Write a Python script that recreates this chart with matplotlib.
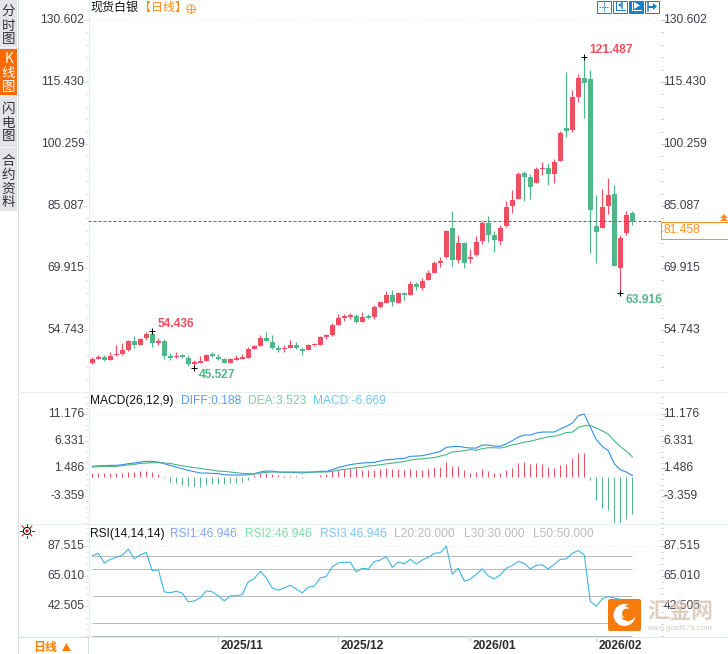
import numpy as np
import matplotlib as mpl
mpl.use('Agg')
import matplotlib.pyplot as plt
from matplotlib.patches import Rectangle, FancyBboxPatch, Circle, Polygon
from matplotlib.ticker import AutoMinorLocator
from matplotlib.transforms import ScaledTranslation

# daily candles
opens = [46.68, 47.74, 48.14, 47.41, 48.55, 48.88, 49.86, 52.06, 51.16, 52.71,
         53.77, 51.57, 52.06, 48.39, 48.14, 48.63, 47.90, 46.51, 46.76, 47.25,
         48.80, 48.14, 47.65, 46.68, 47.49, 47.74, 47.90, 50.10, 50.92, 52.79,
         51.81, 50.10, 50.10, 50.43, 51.08, 50.02, 49.86, 51.00, 51.16, 52.96,
         53.45, 56.06, 57.77, 57.93, 58.17, 56.79, 58.17, 58.01, 60.37, 61.35,
         63.31, 61.35, 63.80, 63.31, 66.00, 65.02, 66.98, 68.69, 71.14, 72.61,
         79.71, 71.88, 76.04, 72.12, 73.10, 76.53, 80.93, 77.99, 76.53, 80.20,
         85.09, 86.80, 93.16, 92.18, 90.72, 94.14, 94.39, 92.92, 96.10, 104.17,
         103.68, 111.76, 116.41, 116.17, 80.19, 79.71, 85.09, 88.02, 69.92, 78.48,
         83.37]
highs = [48.14, 48.63, 48.63, 49.45, 51.08, 51.49, 52.30, 53.28, 52.88, 54.18,
         54.436, 52.88, 52.55, 49.20, 49.37, 48.88, 48.63, 47.33, 48.39, 48.88,
         49.37, 48.80, 47.82, 47.82, 48.63, 48.88, 50.67, 51.08, 53.45, 54.26,
         53.45, 51.08, 51.08, 52.22, 51.81, 50.51, 51.24, 51.65, 53.20, 53.77,
         56.38, 58.67, 58.67, 58.83, 58.66, 59.15, 58.66, 60.86, 61.84, 64.29,
         64.53, 64.05, 64.05, 66.74, 66.49, 67.47, 69.43, 71.63, 72.61, 79.22,
         83.87, 77.99, 76.28, 74.57, 77.75, 81.42, 82.64, 78.97, 80.44, 86.32,
         89.01, 93.41, 93.65, 92.92, 94.63, 95.86, 95.61, 96.59, 103.44, 117.88,
         113.47, 117.39, 121.487, 118.37, 87.78, 89.25, 91.94, 90.23, 77.99, 83.86,
         83.86]
lows = [46.43, 47.65, 47.17, 47.41, 48.39, 48.63, 49.69, 50.43, 51.08, 52.30,
        50.67, 51.08, 47.74, 47.41, 47.82, 47.82, 45.94, 45.527, 46.76, 47.17,
        48.14, 47.49, 46.68, 46.68, 47.49, 47.65, 47.82, 50.10, 50.84, 52.06,
        50.02, 49.37, 49.29, 50.35, 50.02, 48.71, 49.78, 50.75, 51.08, 52.63,
        53.28, 55.97, 56.87, 57.52, 56.54, 56.70, 57.52, 57.52, 60.13, 61.35,
        60.62, 61.35, 62.09, 63.31, 64.53, 64.53, 66.98, 68.69, 70.16, 72.37,
        70.41, 71.14, 69.92, 71.14, 72.86, 75.79, 76.28, 73.84, 75.55, 79.95,
        83.38, 86.80, 86.31, 86.80, 90.72, 92.67, 90.23, 90.72, 96.10, 101.97,
        103.20, 110.54, 106.62, 73.59, 71.14, 79.71, 83.13, 70.41, 63.916, 77.99,
        80.44]
closes = [47.65, 48.23, 47.41, 48.39, 48.96, 49.86, 52.06, 51.08, 52.47, 53.77,
          51.65, 52.06, 48.47, 47.90, 48.39, 48.14, 46.51, 47.00, 47.17, 48.63,
          48.47, 47.74, 46.76, 47.65, 47.90, 47.90, 50.10, 50.92, 52.79, 52.14,
          50.43, 49.94, 50.35, 51.08, 50.43, 49.69, 51.08, 51.41, 53.04, 53.45,
          55.97, 57.69, 58.18, 58.42, 56.70, 57.85, 57.68, 60.37, 61.60, 63.31,
          61.60, 63.80, 63.31, 66.00, 65.27, 66.74, 68.69, 71.14, 71.63, 78.97,
          71.88, 76.04, 71.14, 72.61, 76.28, 80.93, 77.99, 76.77, 79.71, 84.85,
          86.56, 92.92, 92.18, 89.74, 94.14, 94.39, 92.92, 95.86, 102.95, 103.44,
          111.76, 116.41, 115.19, 84.11, 78.73, 84.84, 87.78, 70.41, 77.26, 82.88,
          81.458]
marked_highs = [10, 82]
marked_lows = [17, 88]

# MACD panel
diff = [1.83, 1.95, 1.95, 2.01, 2.01, 2.13, 2.30, 2.42, 2.60, 2.72,
        2.72, 2.60, 2.30, 2.01, 1.71, 1.42, 1.12, 0.89, 0.65, 0.65,
        0.59, 0.53, 0.35, 0.30, 0.30, 0.30, 0.35, 0.53, 0.83, 1.00,
        1.00, 0.83, 0.77, 0.77, 0.77, 0.65, 0.77, 0.83, 0.95, 0.95,
        1.24, 1.65, 1.89, 2.13, 2.30, 2.42, 2.48, 2.54, 2.78, 3.01,
        3.07, 3.19, 3.25, 3.61, 3.66, 3.72, 3.96, 4.20, 4.49, 5.20,
        5.32, 5.38, 5.20, 5.08, 5.08, 5.61, 5.61, 5.44, 5.38, 5.85,
        6.38, 7.03, 7.39, 7.39, 7.74, 7.92, 7.92, 7.92, 8.45, 8.92,
        9.52, 10.82, 11.11, 8.81, 6.56, 5.38, 4.61, 2.30, 1.24, 0.83,
        0.188]
dea = [1.71, 1.77, 1.83, 1.83, 1.83, 1.95, 2.07, 2.19, 2.36, 2.42,
       2.48, 2.48, 2.42, 2.36, 2.13, 1.95, 1.77, 1.60, 1.48, 1.30,
       1.18, 1.00, 0.95, 0.83, 0.71, 0.59, 0.53, 0.47, 0.65, 0.77,
       0.83, 0.83, 0.83, 0.83, 0.83, 0.83, 0.83, 0.83, 0.83, 0.83,
       0.95, 1.18, 1.30, 1.42, 1.60, 1.65, 1.92, 1.98, 2.13, 2.28,
       2.42, 2.54, 2.69, 2.96, 3.10, 3.16, 3.31, 3.37, 3.66, 3.93,
       4.40, 4.46, 4.64, 4.79, 4.70, 4.96, 5.14, 5.14, 5.08, 5.29,
       5.64, 5.85, 6.12, 6.29, 6.56, 6.83, 7.09, 7.18, 7.45, 7.83,
       7.89, 8.75, 9.04, 9.07, 8.60, 8.13, 7.54, 6.38, 5.32, 4.55,
       3.523]
macd = [0.71, 0.65, 0.59, 0.59, 0.59, 0.65, 0.77, 0.83, 0.95, 0.95,
        0.83, 0.47, -0.18, -0.89, -1.12, -1.42, -1.60, -1.60, -1.77, -1.54,
        -1.36, -1.36, -1.30, -1.18, -1.12, -1.00, -0.53, 0.35, 0.71, 0.71,
        0.47, 0.24, 0.18, 0.18, 0.18, -0.30, -0.12, -0.12, 0.24, 0.53,
        1.00, 1.18, 1.30, 1.54, 1.48, 1.18, 1.12, 1.12, 1.30, 1.48,
        1.30, 1.30, 1.12, 1.30, 1.12, 1.12, 1.30, 1.65, 1.65, 2.54,
        1.83, 1.83, 1.12, 0.59, 0.77, 1.30, 0.95, 0.59, 0.59, 1.12,
        1.48, 2.36, 2.54, 2.18, 2.36, 2.18, 1.65, 1.48, 2.01, 2.18,
        3.25, 4.14, 4.14, -0.53, -4.08, -5.50, -5.85, -8.16, -8.16, -7.45,
        -6.669]

# RSI panel
rsi = [80.2, 82.0, 74.8, 77.5, 79.0, 80.7, 85.0, 77.8, 81.0, 82.7,
       68.8, 69.8, 53.1, 52.4, 53.6, 52.1, 45.7, 46.2, 48.7, 53.9,
       53.1, 50.1, 46.4, 50.1, 50.1, 51.1, 60.8, 63.1, 68.6, 63.6,
       55.9, 54.4, 56.1, 58.1, 55.1, 52.4, 56.6, 57.4, 63.6, 64.6,
       72.0, 74.8, 75.3, 75.3, 68.1, 70.8, 70.3, 75.8, 77.0, 79.5,
       71.5, 75.5, 74.0, 77.5, 74.0, 77.0, 79.0, 82.0, 82.5, 87.5,
       66.3, 70.8, 61.1, 62.6, 66.3, 70.3, 65.1, 62.8, 65.8, 70.8,
       72.8, 76.0, 74.5, 70.3, 73.0, 73.3, 70.3, 73.8, 77.5, 77.8,
       82.0, 84.2, 80.7, 45.9, 42.4, 47.9, 49.6, 48.5, 47.5, 47.0,
       46.946]
rsi_levels = [80, 70, 50, 30, 20]

price_ticks = [130.602, 115.430, 100.259, 85.087, 69.915, 54.743]
macd_ticks = [11.176, 6.331, 1.486, -3.359]
rsi_ticks = [87.515, 65.010, 42.505]
month_pos = [21, 41, 63, 84]
month_labels = ['2025/11', '2025/12', '2026/01', '2026/02']
last_price = 81.458

W, H = 728, 654
UP = '#ef5060'
DOWN = '#52b788'
LATIN = 'Liberation Sans'
CJK = ['Noto Sans CJK SC', 'DejaVu Sans']
PX = 0.72  # one pixel in points at dpi 100
TEXT_PX = 12 * PX

plt.rcParams['font.family'] = LATIN
fig = plt.figure(figsize=(W / 100, H / 100), dpi=100)
label_up = ScaledTranslation(0, 1.5 / 100, fig.dpi_scale_trans)


def panel_axes(top, bottom, ylim):
    ax = fig.add_axes([88 / W, 1 - bottom / H, (661 - 88) / W, (bottom - top) / H])
    ax.set_xlim((88 - 92.3) / 6, (661 - 92.3) / 6)
    ax.set_ylim(*ylim)
    ax.patch.set_alpha(0)
    for s in ax.spines.values():
        s.set_visible(False)
    ax.set_xticks([])
    return ax


def style_ticks(ax, ticks):
    ax.set_yticks(ticks)
    ax.set_yticklabels(['%.3f' % t for t in ticks], fontsize=TEXT_PX, color='#3c3c4c')
    ax.yaxis.set_minor_locator(AutoMinorLocator(5))
    ax.tick_params(axis='y', which='major', length=5 * PX, width=PX, color='#cfe4f0', pad=-1)
    ax.tick_params(axis='y', which='minor', length=2 * PX, width=PX, color='#d5dde3')
    sec = ax.secondary_yaxis('right')
    sec.set_yticks(ticks)
    sec.set_yticklabels(['%.3f' % t for t in ticks], fontsize=TEXT_PX, color='#3c3c4c')
    sec.yaxis.set_minor_locator(AutoMinorLocator(5))
    sec.tick_params(axis='y', which='major', length=5 * PX, width=PX, color='#c4c4c4', pad=-1.8)
    sec.tick_params(axis='y', which='minor', length=1.5 * PX, width=PX, color='#c4c4c4')
    sec.spines['right'].set_visible(False)
    for lab in list(ax.get_yticklabels()) + list(sec.get_yticklabels()):
        lab.set_transform(lab.get_transform() + label_up)


# pixel canvas for the page furniture
bg = fig.add_axes([0, 0, 1, 1], zorder=0)
bg.set_xlim(0, W)
bg.set_ylim(H, 0)
bg.axis('off')

bg.add_patch(Rectangle((0, 0), 17, 211, fc='#e3e3ea', ec='none'))
bg.add_patch(Rectangle((0, 49), 17, 46, fc='#ff6a00', ec='none'))
bg.plot([0, 17], [47, 47], color='#f2f2f5', lw=PX)
bg.plot([0, 17], [147, 147], color='#f4f4f6', lw=PX)
bg.plot([17.5, 17.5], [0, H], color='#d8dde2', lw=PX)
bg.plot([88.5, 88.5], [0, 636], color='#e4eef4', lw=PX)
for y in [391.5, 523.5]:
    bg.plot([18, W], [y, y], color='#e6eff2', lw=PX)
bg.plot([88, W], [636.5, 636.5], color='#e0e8ec', lw=PX)
bg.plot([18, 88], [636.5, 636.5], color='#d6dee4', lw=PX)
bg.plot([87.5, 87.5], [636, H], color='#d6dee4', lw=PX)
for y in [19.5, 413.5, 545.5]:
    bg.plot([88, 661], [y, y], color='#eeeeee', lw=PX, ls=(0, (4, 3)))

tabs = [('分', 12), ('时', 26), ('图', 39), ('K', 59), ('线', 73), ('图', 87),
        ('闪', 109), ('电', 123), ('图', 136), ('合', 161), ('约', 175), ('资', 189), ('料', 202)]
for ch, y in tabs:
    col = 'white' if 50 < y < 95 else '#333333'
    bg.text(8.5, y, ch, ha='center', va='center', fontsize=13.5 * PX, color=col, family=CJK)

bg.text(90, 7, '现货白银', va='center', fontsize=TEXT_PX, color='#111111', family=CJK)
bg.text(139, 7, '【日线】', va='center', fontsize=TEXT_PX, color='#ff8a1e', family=CJK)
bg.add_patch(Circle((191, 9), 4.2, fc='none', ec='#ff9a40', lw=PX))
bg.plot([186.8, 195.2], [9, 9], color='#ff9a40', lw=PX)
bg.plot([191, 191], [4.8, 13.2], color='#ff9a40', lw=PX)

# toolbar buttons
TB = '#1a80c8'
for k, x0 in enumerate([597, 613, 629, 645]):
    filled = k == 2
    bg.add_patch(Rectangle((x0, 0.5), 13.5, 12, fc=TB if filled else 'white', ec=TB, lw=PX))
    c = 'white' if filled else TB
    if k == 0:
        bg.plot([x0 + 2, x0 + 12], [6.5, 6.5], color=c, lw=PX, ls=(0, (1.5, 1)))
        bg.plot([x0 + 7, x0 + 7], [2, 11], color=c, lw=PX, ls=(0, (1.5, 1)))
    elif k == 1:
        bg.plot([x0 + 3, x0 + 3, x0 + 12], [2, 10, 10], color=c, lw=PX)
        bg.plot([x0 + 9, x0 + 9], [2, 8], color=c, lw=1.5 * PX)
        bg.add_patch(Polygon([[x0 + 8, 3], [x0 + 5, 5], [x0 + 8, 7]], fc=c, ec='none'))
    elif k == 2:
        bg.plot([x0 + 3, x0 + 3, x0 + 12], [2, 10, 10], color=c, lw=PX)
        bg.add_patch(Polygon([[x0 + 5, 2], [x0 + 11, 5.5], [x0 + 5, 9]], fc=c, ec='none'))
    else:
        bg.plot([x0 + 3, x0 + 3], [2, 11], color=c, lw=1.5 * PX)
        bg.plot([x0 + 4, x0 + 9], [6.5, 6.5], color=c, lw=2 * PX)
        bg.add_patch(Polygon([[x0 + 8, 3], [x0 + 12, 6.5], [x0 + 8, 10]], fc=c, ec='none'))

# price panel
ax = panel_axes(18, 391, (39.82, 131.1))
x = np.arange(len(closes))
o, h, l, c = map(np.array, (opens, highs, lows, closes))
colors = np.where(c >= o, UP, DOWN)
ax.vlines(x, l, h, colors=colors, lw=1.2 * PX, zorder=2)
ax.bar(x, np.maximum(np.abs(c - o), 0.3), bottom=np.minimum(o, c), width=0.83, color=colors, lw=0, zorder=3)
ax.axhline(last_price, xmin=0, xmax=1, color='#1e78d8', lw=PX, ls=(0, (3, 2)), zorder=4)
style_ticks(ax, price_ticks)

ax.plot(marked_highs, h[marked_highs], '+', color='k', ms=5, mew=PX, zorder=5)
ax.plot(marked_lows, l[marked_lows], '+', color='k', ms=5, mew=PX, zorder=5)


def extreme_label(i, val, col, dy):
    ax.annotate('%.3f' % val, (i, val), xytext=(5, dy), textcoords='offset pixels', color=col,
                fontsize=TEXT_PX, fontweight='bold', va='center', ha='left')


for i in marked_highs:
    extreme_label(i, h[i], UP, 7)
for i in marked_lows:
    extreme_label(i, l[i], DOWN, -7.5)

# last price box
bg.add_patch(Rectangle((660.5, 221.5), 68, 17, fc='white', ec='#ff9020', lw=PX, zorder=6))
bg.text(663, 230, '%.3f' % last_price, va='center', fontsize=TEXT_PX, color='#ff9020', zorder=7)
for y0 in (214, 217):
    bg.add_patch(Polygon([[720, y0 + 4], [728, y0 + 4], [724, y0]], fc='#ff9020', ec='none', zorder=7))

# MACD panel
ax2 = panel_axes(392, 523, (-8.21, 15.02))
m = np.array(macd)
ax2.vlines(x, 0, m, colors=np.where(m >= 0, UP, DOWN), lw=PX, zorder=2)
ax2.plot(x, diff, color='#2f8cf0', lw=1.1 * PX, zorder=3)
ax2.plot(x, dea, color='#45b880', lw=1.1 * PX, zorder=3)
style_ticks(ax2, macd_ticks)

bg.text(90, 401, 'MACD(26,12,9)', va='center', fontsize=TEXT_PX, color='#111111')
bg.text(181, 401, 'DIFF:%.3f' % diff[-1], va='center', fontsize=TEXT_PX, color='#5a9cf2')
bg.text(248, 401, 'DEA:%.3f' % dea[-1], va='center', fontsize=TEXT_PX, color='#7dd0a0')
bg.text(313, 401, 'MACD:%.3f' % macd[-1], va='center', fontsize=TEXT_PX, color='#70c6f0')

# RSI panel
ax3 = panel_axes(523, 636, (20, 104.75))
ax3.hlines(rsi_levels, -0.05, 90, color='#bbbbbb', lw=PX, zorder=1, clip_on=False)
ax3.plot(x, rsi, color='#3cb4e6', lw=1.1 * PX, zorder=3)
style_ticks(ax3, rsi_ticks)

bg.text(90, 534, 'RSI(14,14,14)', va='center', fontsize=TEXT_PX, color='#111111')
bg.text(170, 534, 'RSI1:%.3f' % rsi[-1], va='center', fontsize=TEXT_PX, color='#7ea6f6')
bg.text(245, 534, 'RSI2:%.3f' % rsi[-1], va='center', fontsize=TEXT_PX, color='#7fdca8')
bg.text(320, 534, 'RSI3:%.3f' % rsi[-1], va='center', fontsize=TEXT_PX, color='#7cc6ee')
for lx, lev in zip([394, 464, 533], [20, 30, 50]):
    bg.text(lx, 534, 'L%d:%.3f' % (lev, lev), va='center', fontsize=TEXT_PX, color='#bcbcbc')

# little sun icon
bg.add_patch(Circle((27, 531), 3.6, fc='white', ec='k', lw=PX))
bg.add_patch(Circle((27, 531), 1.6, fc='#e00000', ec='none'))
for a in np.arange(0, 360, 45):
    ca, sa = np.cos(np.radians(a)), np.sin(np.radians(a))
    bg.plot([27 + 4.8 * ca, 27 + 7 * ca], [531 + 4.8 * sa, 531 + 7 * sa], color='#e00000', lw=PX)

# month labels
for p, lab in zip(month_pos, month_labels):
    ax3.plot([p, p], [0, -0.04], transform=ax3.get_xaxis_transform(), color='#d0d8de', lw=PX, clip_on=False)
    ax3.annotate(lab, (p, 0), xycoords=ax3.get_xaxis_transform(), xytext=(2, -10), textcoords='offset pixels',
                 fontsize=TEXT_PX, fontweight='bold', color='#2c2c2c', va='center', ha='left')

bg.text(45, 647, '日线', ha='center', va='center', fontsize=TEXT_PX, fontweight='bold', color='#ff8000', family=CJK)
bg.add_patch(Polygon([[62, 651], [71, 651], [66.5, 643]], fc='#ff8000', ec='none'))

# watermark sits over everything
wm = fig.add_axes([0, 0, 1, 1], zorder=10)
wm.set_xlim(0, W)
wm.set_ylim(H, 0)
wm.axis('off')
wm.add_patch(FancyBboxPatch((610, 601), 29, 28, boxstyle='round,pad=2', fc='#f57c0c', ec='none'))
wm.add_patch(Circle((624.5, 615), 11, fc='white', ec='none'))
wm.add_patch(Circle((628, 613), 8, fc='#f57c0c', ec='none'))
wm.add_patch(Circle((624, 612), 6, fc='white', ec='none'))
wm.add_patch(Circle((627, 613.5), 5, fc='#f57c0c', ec='none'))
wm.text(680, 611, '汇金网', ha='center', va='center', fontsize=22 * PX, fontweight='bold',
        color='#d6c6b6', alpha=0.8, family=CJK)
wm.text(679, 628, 'www.gold678.com', ha='center', va='center', fontsize=8 * PX, color='#cfc8c0', alpha=0.9)

fig.savefig('out.png', dpi=100)
